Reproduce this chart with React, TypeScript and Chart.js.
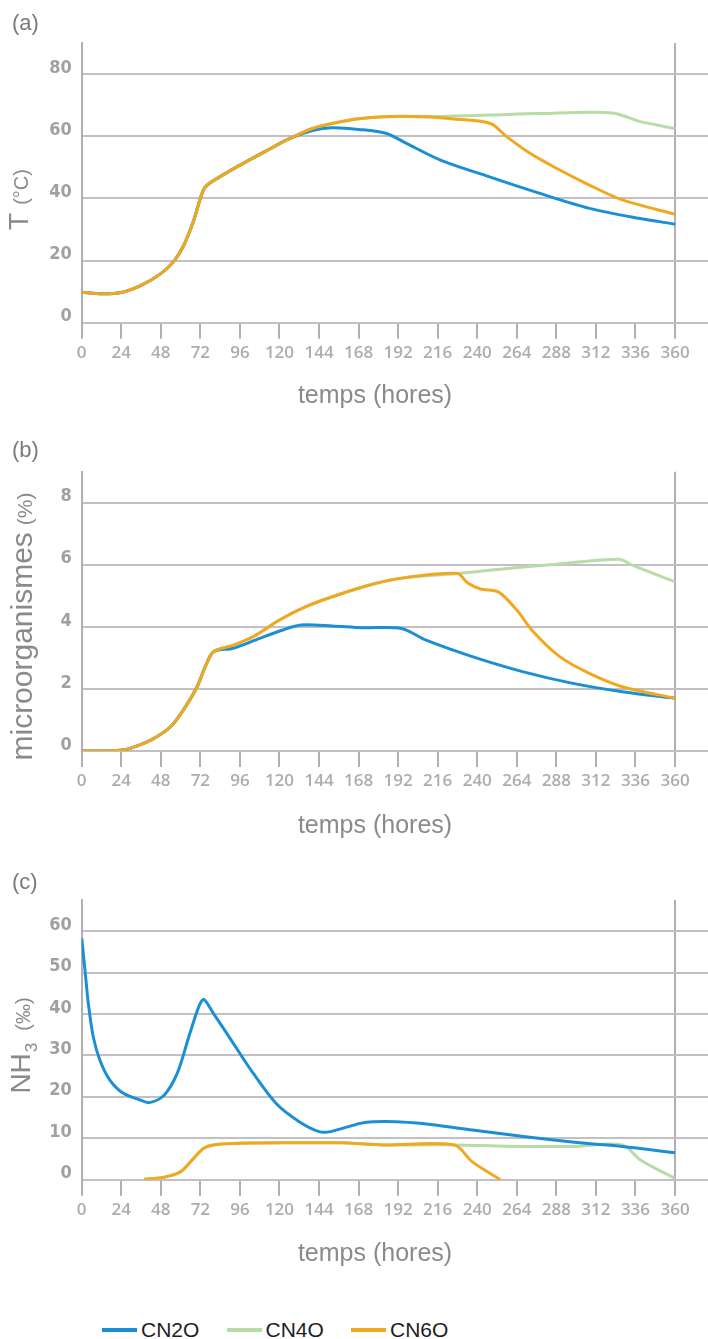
import React, { useEffect, useRef } from "react";
import { Chart, registerables } from "chart.js";

Chart.register(...registerables);

// ---------- data ----------
const X_TICKS = [0, 24, 48, 72, 96, 120, 144, 168, 192, 216, 240, 264, 288, 312, 336, 360];
const SERIES_NAMES = ["CN2O", "CN4O", "CN6O"];

// (a) temperature
const T_TICKS = [0, 20, 40, 60, 80];
const T_CN2O_H = [0, 12, 24, 36, 48, 56, 62, 68, 72, 75, 84, 96, 112, 126, 140, 152, 168, 185, 197, 217, 247, 278, 308, 338, 360];
const T_CN2O_V = [9.8, 9.3, 9.7, 12, 15.8, 19.8, 25, 33, 40, 43.7, 47, 50.7, 55.3, 59.2, 61.8, 62.7, 62.2, 60.9, 57.7, 52.5, 47, 41.6, 36.8, 33.6, 31.7];
const T_CN4O_H = [0, 12, 24, 36, 48, 56, 62, 68, 72, 75, 84, 96, 112, 126, 140, 152, 168, 183, 207, 227, 248, 278, 322, 339, 360];
const T_CN4O_V = [9.8, 9.3, 9.7, 12, 15.8, 19.8, 25, 33, 40, 43.7, 47, 50.7, 55.3, 59.2, 62.5, 64.1, 65.6, 66.3, 66.3, 66.5, 66.8, 67.3, 67.5, 64.7, 62.5];
const T_CN6O_H = [0, 12, 24, 36, 48, 56, 62, 68, 72, 75, 84, 96, 112, 126, 140, 152, 168, 183, 207, 227, 248, 258, 272, 288, 308, 328, 360];
const T_CN6O_V = [9.8, 9.3, 9.7, 12, 15.8, 19.8, 25, 33, 40, 43.7, 47, 50.7, 55.3, 59.2, 62.5, 64.1, 65.6, 66.3, 66.3, 65.5, 64.1, 59.8, 54.5, 49.7, 44.3, 39.5, 34.9];

// (b) microorganisms
const M_TICKS = [0, 2, 4, 6, 8];
const M_CN2O_H = [0, 12, 25, 35, 45, 55, 63, 70, 75, 80, 92, 108, 122, 133, 152, 170, 194, 209, 237, 268, 298, 328, 360];
const M_CN2O_V = [0, 0, 0.03, 0.19, 0.44, 0.84, 1.43, 2.07, 2.72, 3.2, 3.31, 3.63, 3.9, 4.06, 4.03, 3.97, 3.95, 3.57, 3.04, 2.55, 2.18, 1.91, 1.7];
const M_CN4O_H = [0, 12, 25, 35, 45, 55, 63, 70, 75, 80, 92, 104, 120, 136, 152, 177, 197, 228, 258, 288, 326, 334, 360];
const M_CN4O_V = [0, 0, 0.03, 0.19, 0.44, 0.84, 1.43, 2.07, 2.72, 3.2, 3.41, 3.68, 4.22, 4.65, 4.97, 5.38, 5.59, 5.72, 5.88, 6.02, 6.18, 5.99, 5.45];
const M_CN6O_H = [0, 12, 25, 35, 45, 55, 63, 70, 75, 80, 92, 104, 120, 136, 152, 177, 197, 228, 234, 242, 253, 264, 274, 290, 308, 328, 360];
const M_CN6O_V = [0, 0, 0.03, 0.19, 0.44, 0.84, 1.43, 2.07, 2.72, 3.2, 3.41, 3.68, 4.22, 4.65, 4.97, 5.38, 5.59, 5.72, 5.42, 5.22, 5.12, 4.54, 3.84, 3.04, 2.5, 2.07, 1.7];

// (c) NH3
const N_TICKS = [0, 10, 20, 30, 40, 50, 60];
const N_CN2O_H = [0, 2, 4, 7, 11, 17, 25, 35, 41, 50, 58, 65, 71, 74, 80, 92, 104, 118, 132, 144, 151, 169, 177, 191, 205, 237, 268, 302, 328, 360];
const N_CN2O_V = [58.3, 50.6, 42.6, 34.5, 28.9, 24.1, 20.9, 19.3, 18.6, 20.4, 25.7, 34.5, 41.7, 43.5, 40.1, 32.9, 25.7, 18.4, 14, 11.6, 11.6, 13.6, 14, 14, 13.6, 12, 10.4, 8.9, 8, 6.5];
const N_CN4O_H = [38, 50, 60, 68, 74, 80, 96, 132, 157, 183, 226, 258, 298, 328, 339, 360];
const N_CN4O_V = [0.1, 0.6, 1.9, 5.2, 7.6, 8.4, 8.8, 8.9, 8.9, 8.4, 8.4, 8.1, 8.0, 8.4, 4.75, 0.3];
const N_CN6O_H = [38, 50, 60, 68, 74, 80, 96, 132, 157, 183, 226, 237, 254];
const N_CN6O_V = [0.1, 0.6, 1.9, 5.2, 7.6, 8.4, 8.8, 8.9, 8.9, 8.4, 8.4, 4.3, 0];

// ---------- styles ----------
const BLUE = "#1b8fd6";
const GREEN = "#b8dca6";
const ORANGE = "#f0a81f";
const COLORS = [BLUE, GREEN, ORANGE];
const GRID = "#c4bfc4";
const AXIS = "#b3aeb3";
const FONT_SANS = '"Liberation Sans", Arial, Helvetica, sans-serif';
const FONT_NARROW = '"Liberation Sans Narrow", "DejaVu Sans Condensed", "Roboto Condensed", "Arial Narrow", "Liberation Sans", sans-serif';
const FONT_TICK_X = '"Open Sans", "Noto Sans", sans-serif';

type Part = { text: string; size: number; gap?: number; dy?: number };

const textPlugin = {
  id: "panelText",
  afterDraw(chart: any, _args: any, opts: any) {
    const ctx = chart.ctx as CanvasRenderingContext2D;
    const area = chart.chartArea;
    ctx.save();
    // panel letter
    ctx.fillStyle = "#7a7a7a";
    ctx.font = `22px ${FONT_SANS}`;
    ctx.textAlign = "left";
    ctx.textBaseline = "middle";
    ctx.fillText(opts.letter, 12, opts.letterY);
    // x title
    ctx.fillStyle = "#8a8a8a";
    ctx.font = `25px ${FONT_SANS}`;
    ctx.textAlign = "center";
    ctx.fillText("temps (hores)", 375, area.bottom + opts.xTitleOffset);
    // y title (rotated, mixed sizes)
    const parts: Part[] = opts.yParts;
    ctx.textAlign = "left";
    ctx.textBaseline = "alphabetic";
    let total = 0;
    const widths = parts.map((p) => {
      ctx.font = `${p.size}px ${FONT_SANS}`;
      const w = ctx.measureText(p.text).width;
      total += w + (p.gap || 0);
      return w;
    });
    ctx.translate(opts.yBaseX, opts.yCenter);
    ctx.rotate(-Math.PI / 2);
    let x = -total / 2;
    parts.forEach((p, i) => {
      x += p.gap || 0;
      ctx.font = `${p.size}px ${FONT_SANS}`;
      ctx.fillText(p.text, x, p.dy || 0);
      x += widths[i];
    });
    ctx.restore();
  },
};

function mk(i: number, hours: number[], values: number[]) {
  const orders = [2, 3, 1];
  return {
    label: SERIES_NAMES[i],
    data: hours.map((h, k) => ({ x: h, y: values[k] })),
    borderColor: COLORS[i],
    backgroundColor: COLORS[i],
    borderWidth: 3,
    pointRadius: 0,
    tension: 0.3,
    fill: false,
    order: orders[i],
  };
}

type PanelCfg = {
  top: number;
  height: number;
  chartTop: number;
  chartBottom: number;
  yMax: number;
  yTicks: number[];
  datasets: any[];
  letter: string;
  letterY: number;
  yParts: Part[];
  yBaseX: number;
  yCenter: number;
  xTitleOffset: number;
};

const PANELS: PanelCfg[] = [
  {
    top: 0, height: 420, chartTop: 43, chartBottom: 322.7, yMax: 90, yTicks: T_TICKS,
    datasets: [mk(0, T_CN2O_H, T_CN2O_V), mk(1, T_CN4O_H, T_CN4O_V), mk(2, T_CN6O_H, T_CN6O_V)],
    letter: "(a)", letterY: 24,
    yParts: [{ text: "T", size: 28 }, { text: "(°C)", size: 20, gap: 8 }],
    yBaseX: 28, yCenter: 199.5, xTitleOffset: 73,
  },
  {
    top: 420, height: 430, chartTop: 51.7, chartBottom: 331, yMax: 9, yTicks: M_TICKS,
    datasets: [mk(0, M_CN2O_H, M_CN2O_V), mk(1, M_CN4O_H, M_CN4O_V), mk(2, M_CN6O_H, M_CN6O_V)],
    letter: "(b)", letterY: 31,
    yParts: [{ text: "microorganismes", size: 30 }, { text: "(%)", size: 21, gap: 7 }],
    yBaseX: 32, yCenter: 206.5, xTitleOffset: 75,
  },
  {
    top: 850, height: 440, chartTop: 50, chartBottom: 329.7, yMax: 67.5, yTicks: N_TICKS,
    datasets: [mk(0, N_CN2O_H, N_CN2O_V), mk(1, N_CN4O_H, N_CN4O_V), mk(2, N_CN6O_H, N_CN6O_V)],
    letter: "(c)", letterY: 33,
    yParts: [{ text: "NH", size: 28 }, { text: "3", size: 17, gap: 1, dy: 7 }, { text: "(‰)", size: 20, gap: 12 }],
    yBaseX: 30, yCenter: 195.5, xTitleOffset: 74,
  },
];

function Panel({ cfg }: { cfg: PanelCfg }) {
  const ref = useRef<HTMLCanvasElement | null>(null);
  useEffect(() => {
    if (!ref.current) return;
    const chart = new Chart(ref.current, {
      type: "line",
      data: { datasets: cfg.datasets },
      plugins: [textPlugin as any],
      options: {
        responsive: false,
        animation: false,
        events: [],
        layout: { padding: { top: cfg.chartTop, left: 0, right: 0, bottom: 0 } },
        plugins: {
          legend: { display: false },
          tooltip: { enabled: false },
          panelText: {
            letter: cfg.letter,
            letterY: cfg.letterY,
            xTitleOffset: cfg.xTitleOffset,
            yParts: cfg.yParts,
            yBaseX: cfg.yBaseX,
            yCenter: cfg.yCenter,
          },
        } as any,
        scales: {
          x: {
            type: "linear",
            min: 0,
            max: 380,
            afterBuildTicks: (s: any) => {
              s.ticks = X_TICKS.map((v) => ({ value: v }));
            },
            afterFit: (s: any) => {
              s.height = cfg.height - cfg.chartBottom;
            },
            ticks: {
              autoSkip: false,
              maxRotation: 0,
              padding: 4,
              color: "#adadad",
              font: { family: FONT_TICK_X, size: 17, weight: "600" },
              callback: (v: any) => String(v),
            },
            grid: {
              color: (c: any) => (c.tick && c.tick.value === 360 ? AXIS : "rgba(0,0,0,0)"),
              tickColor: AXIS,
              lineWidth: 2,
              tickLength: 16,
            },
            border: { display: false },
          },
          y: {
            type: "linear",
            min: 0,
            max: cfg.yMax,
            afterBuildTicks: (s: any) => {
              s.ticks = cfg.yTicks.map((v) => ({ value: v }));
            },
            afterFit: (s: any) => {
              s.width = 81.7;
            },
            ticks: {
              padding: 10,
              labelOffset: -6,
              color: "#a0a0a0",
              font: { family: FONT_NARROW, size: 18, weight: "bold" },
              callback: (v: any) => String(v),
            },
            grid: { color: GRID, lineWidth: 2, drawTicks: false },
            border: { display: true, color: AXIS, width: 2 },
          },
        },
      } as any,
    });
    return () => chart.destroy();
  }, []);
  return (
    <canvas
      ref={ref}
      width={708}
      height={cfg.height}
      style={{ position: "absolute", left: 0, top: cfg.top, display: "block", width: 708, height: cfg.height }}
    />
  );
}

export default function App() {
  return (
    <div style={{ position: "absolute", left: 0, top: 0, width: 708, height: 1339, background: "#ffffff", overflow: "hidden" }}>
      {PANELS.map((p, i) => (
        <Panel key={i} cfg={p} />
      ))}
      <div style={{ position: "absolute", left: 102, top: 1318, height: 24, display: "flex", alignItems: "center" }}>
        {SERIES_NAMES.map((n, i) => (
          <div key={n} style={{ width: 124.5, display: "flex", alignItems: "center" }}>
            <span style={{ display: "inline-block", width: 35, height: 4, background: COLORS[i], marginRight: 4 }} />
            <span style={{ fontFamily: FONT_SANS, fontSize: 21, color: "#1e1e1e", lineHeight: "24px" }}>{n}</span>
          </div>
        ))}
      </div>
    </div>
  );
}
